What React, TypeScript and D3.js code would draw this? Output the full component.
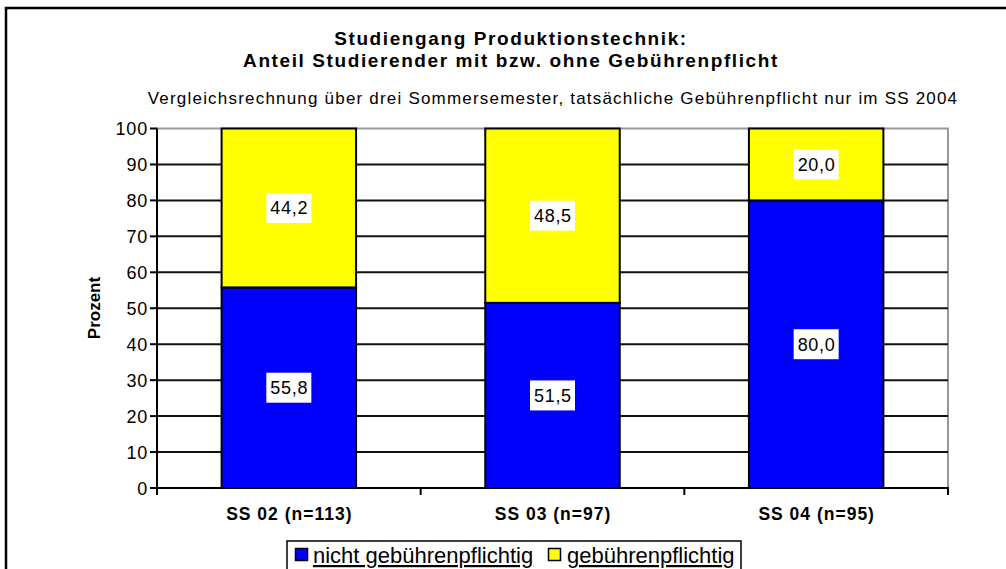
import React from "react";
import * as d3 from "d3";

const categories = ["SS 02 (n=113)", "SS 03 (n=97)", "SS 04 (n=95)"];
const seriesNames = ["nicht gebührenpflichtig", "gebührenpflichtig"];
const nichtValues = [55.8, 51.5, 80.0];
const pflichtValues = [44.2, 48.5, 20.0];
const yTicks = [0, 10, 20, 30, 40, 50, 60, 70, 80, 90, 100];
const colors = ["#0000FF", "#FFFF00"];

const W = 1006;
const H = 569;
const FONT = "'Liberation Sans', Arial, sans-serif";

export default function App() {
  const x = d3
    .scaleBand<string>()
    .domain(categories)
    .range([157, 948])
    .paddingInner(0.49)
    .paddingOuter(0.245);
  const y = d3.scaleLinear().domain([0, 100]).range([488, 128.5]);
  const step = x.step();
  const x0 = 157;

  const stacks = categories.map((c, i) => {
    const segs = [nichtValues[i], pflichtValues[i]];
    let acc = 0;
    return segs.map((v, k) => {
      const s = { cat: c, k, v, y0: acc, y1: acc + v };
      acc += v;
      return s;
    });
  });

  const fmt = (v: number) => v.toFixed(1).replace(".", ",");

  return (
    <svg
      width={W}
      height={H}
      style={{ position: "absolute", left: 0, top: 0, background: "#fff" }}
      fontFamily={FONT}
    >
      <rect x={0} y={0} width={W} height={H} fill="#fff" />
      {/* outer frame */}
      <rect x={6} y={8} width={1100} height={700} fill="none" stroke="#000" strokeWidth={2.5} />

      {/* titles */}
      <text x={511} y={45} textAnchor="middle" fontWeight="bold" fontSize={19} letterSpacing={1.6}>
        Studiengang Produktionstechnik:
      </text>
      <text x={511} y={67} textAnchor="middle" fontWeight="bold" fontSize={19} letterSpacing={1.6}>
        Anteil Studierender mit bzw. ohne Gebührenpflicht
      </text>
      <text x={553} y={104} textAnchor="middle" fontSize={17} letterSpacing={1.2}>
        Vergleichsrechnung über drei Sommersemester, tatsächliche Gebührenpflicht nur im SS 2004
      </text>

      {/* plot border (gray) */}
      <rect x={157} y={y(100)} width={948 - 157} height={y(0) - y(100)} fill="none" stroke="#999" strokeWidth={2} />

      {/* gridlines */}
      {yTicks.filter((t) => t > 0 && t < 100).map((t) => (
        <line key={t} x1={157} x2={948} y1={y(t)} y2={y(t)} stroke="#111" strokeWidth={2} />
      ))}

      {/* bars */}
      {stacks.map((segs) =>
        segs.map((s) => (
          <rect
            key={s.cat + s.k}
            x={x(s.cat)!}
            y={y(s.y1)}
            width={x.bandwidth()}
            height={y(s.y0) - y(s.y1)}
            fill={colors[s.k]}
            stroke="#000"
            strokeWidth={2}
          />
        ))
      )}

      {/* data labels */}
      {stacks.map((segs) =>
        segs.map((s) => {
          const cx = x(s.cat)! + x.bandwidth() / 2;
          const cy = y((s.y0 + s.y1) / 2);
          return (
            <g key={"l" + s.cat + s.k}>
              <rect x={cx - 22.5} y={cy - 15} width={45} height={30} fill="#fff" />
              <text x={cx + 0.4} y={cy + 6.5} textAnchor="middle" fontSize={18} letterSpacing={0.7}>
                {fmt(s.v)}
              </text>
            </g>
          );
        })
      )}

      {/* axes */}
      <line x1={157} x2={157} y1={y(100)} y2={y(0)} stroke="#000" strokeWidth={2} />
      <line x1={156} x2={949} y1={y(0)} y2={y(0)} stroke="#000" strokeWidth={2} />
      {yTicks.map((t) => (
        <g key={"yt" + t}>
          <line x1={150} x2={157} y1={y(t)} y2={y(t)} stroke="#000" strokeWidth={2} />
          <text x={148} y={y(t) + 6.5} textAnchor="end" fontSize={18} letterSpacing={0.8}>
            {t}
          </text>
        </g>
      ))}
      {d3.range(categories.length + 1).map((i) => (
        <line key={"xt" + i} x1={x0 + i * step} x2={x0 + i * step} y1={y(0)} y2={y(0) + 7} stroke="#000" strokeWidth={2} />
      ))}
      {categories.map((c) => (
        <text
          key={"c" + c}
          x={x(c)! + x.bandwidth() / 2 + 0.5}
          y={520}
          textAnchor="middle"
          fontWeight="bold"
          fontSize={17.5}
          letterSpacing={1}
        >
          {c}
        </text>
      ))}

      {/* y axis title */}
      <text
        transform={`translate(100, 308) rotate(-90)`}
        textAnchor="middle"
        fontWeight="bold"
        fontSize={17}
      >
        Prozent
      </text>

      {/* legend */}
      <rect x={287} y={541} width={454} height={60} fill="#fff" stroke="#000" strokeWidth={1.5} />
      <rect x={295.5} y={548.5} width={12} height={12} fill={colors[0]} stroke="#000" strokeWidth={1.5} />
      <text x={313} y={563} fontSize={22} style={{ textDecoration: "underline" }}>
        {seriesNames[0]}
      </text>
      <rect x={548.5} y={548.5} width={12} height={12} fill={colors[1]} stroke="#000" strokeWidth={1.5} />
      <text x={567} y={563} fontSize={22} style={{ textDecoration: "underline" }}>
        {seriesNames[1]}
      </text>
    </svg>
  );
}
